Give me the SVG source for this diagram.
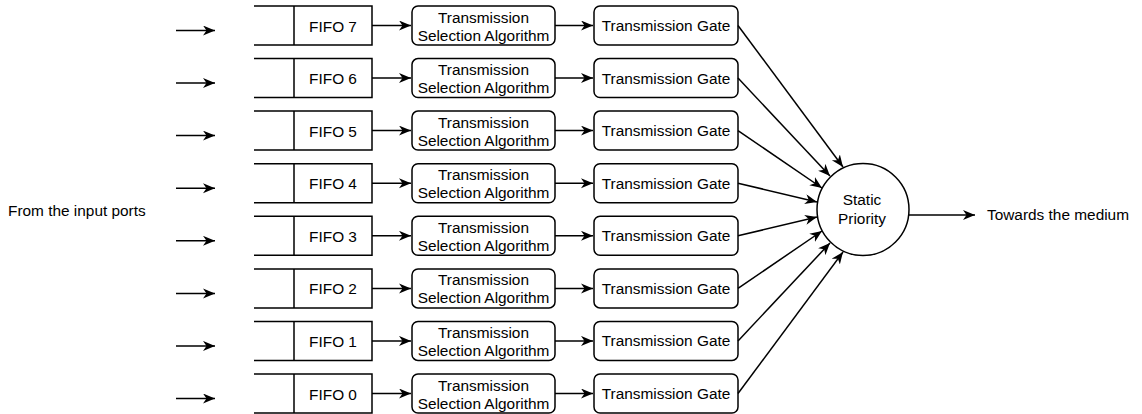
<svg xmlns="http://www.w3.org/2000/svg" width="1142" height="414" viewBox="0 0 1142 414">
<style>
text{font-family:"Liberation Sans",Arial,Helvetica,sans-serif;font-size:15.4px;fill:#000}
.c{text-anchor:middle}
.s{fill:none;stroke:#000;stroke-width:1.5}
.b{fill:#fff;stroke:#000;stroke-width:1.5}
.e{fill:none;stroke:#000;stroke-width:1.5;marker-end:url(#ah)}
</style>
<defs>
<marker id="ah" markerUnits="userSpaceOnUse" markerWidth="13" markerHeight="11" viewBox="0 0 13 11" refX="12" refY="5" orient="auto">
<path d="M0,0 L12,5 L0,10 L3.5,5 Z" fill="#000"/>
</marker>
<g id="fifo"><path class="s" d="M0,0 H118 V39 H0 M40,0 V39"/></g>
<g id="tsa"><rect class="b" x="0" y="0" width="143" height="39" rx="6" ry="6"/></g>
<g id="gate"><rect class="b" x="0" y="0" width="144" height="39" rx="6" ry="6"/></g>
</defs>
<rect width="1142" height="414" fill="#fff"/>
<text id="label-input" x="8" y="216">From the input ports</text>
<text id="label-output" x="987" y="220">Towards the medium</text>

<g id="fifo7"><use href="#fifo" x="254" y="6"/><text class="c" x="333" y="31.5">FIFO 7</text></g>
<g id="fifo6"><use href="#fifo" x="254" y="58.6"/><text class="c" x="333" y="84.1">FIFO 6</text></g>
<g id="fifo5"><use href="#fifo" x="254" y="111.1"/><text class="c" x="333" y="136.6">FIFO 5</text></g>
<g id="fifo4"><use href="#fifo" x="254" y="163.7"/><text class="c" x="333" y="189.2">FIFO 4</text></g>
<g id="fifo3"><use href="#fifo" x="254" y="216.3"/><text class="c" x="333" y="241.8">FIFO 3</text></g>
<g id="fifo2"><use href="#fifo" x="254" y="268.9"/><text class="c" x="333" y="294.4">FIFO 2</text></g>
<g id="fifo1"><use href="#fifo" x="254" y="321.4"/><text class="c" x="333" y="346.9">FIFO 1</text></g>
<g id="fifo0"><use href="#fifo" x="254" y="374"/><text class="c" x="333" y="399.5">FIFO 0</text></g>

<g id="tsa7"><use href="#tsa" x="412" y="6"/><text class="c" x="483.5" y="22.5">Transmission</text><text class="c" x="483.5" y="40.5">Selection Algorithm</text></g>
<g id="tsa6"><use href="#tsa" x="412" y="58.6"/><text class="c" x="483.5" y="75.1">Transmission</text><text class="c" x="483.5" y="93.1">Selection Algorithm</text></g>
<g id="tsa5"><use href="#tsa" x="412" y="111.1"/><text class="c" x="483.5" y="127.6">Transmission</text><text class="c" x="483.5" y="145.6">Selection Algorithm</text></g>
<g id="tsa4"><use href="#tsa" x="412" y="163.7"/><text class="c" x="483.5" y="180.2">Transmission</text><text class="c" x="483.5" y="198.2">Selection Algorithm</text></g>
<g id="tsa3"><use href="#tsa" x="412" y="216.3"/><text class="c" x="483.5" y="232.8">Transmission</text><text class="c" x="483.5" y="250.8">Selection Algorithm</text></g>
<g id="tsa2"><use href="#tsa" x="412" y="268.9"/><text class="c" x="483.5" y="285.4">Transmission</text><text class="c" x="483.5" y="303.4">Selection Algorithm</text></g>
<g id="tsa1"><use href="#tsa" x="412" y="321.4"/><text class="c" x="483.5" y="337.9">Transmission</text><text class="c" x="483.5" y="355.9">Selection Algorithm</text></g>
<g id="tsa0"><use href="#tsa" x="412" y="374"/><text class="c" x="483.5" y="390.5">Transmission</text><text class="c" x="483.5" y="408.5">Selection Algorithm</text></g>

<g id="gate7"><use href="#gate" x="594" y="6"/><text class="c" x="666" y="31">Transmission Gate</text></g>
<g id="gate6"><use href="#gate" x="594" y="58.6"/><text class="c" x="666" y="83.6">Transmission Gate</text></g>
<g id="gate5"><use href="#gate" x="594" y="111.1"/><text class="c" x="666" y="136.1">Transmission Gate</text></g>
<g id="gate4"><use href="#gate" x="594" y="163.7"/><text class="c" x="666" y="188.7">Transmission Gate</text></g>
<g id="gate3"><use href="#gate" x="594" y="216.3"/><text class="c" x="666" y="241.3">Transmission Gate</text></g>
<g id="gate2"><use href="#gate" x="594" y="268.9"/><text class="c" x="666" y="293.9">Transmission Gate</text></g>
<g id="gate1"><use href="#gate" x="594" y="321.4"/><text class="c" x="666" y="346.4">Transmission Gate</text></g>
<g id="gate0"><use href="#gate" x="594" y="374"/><text class="c" x="666" y="399">Transmission Gate</text></g>

<g id="static-priority"><circle class="b" cx="863" cy="209.5" r="46"/><text class="c" x="862" y="205">Static</text><text class="c" x="862" y="223.5">Priority</text></g>

<g id="connectors">
<path class="e" d="M176,30.5 H215"/>
<path class="e" d="M176,83.1 H215"/>
<path class="e" d="M176,135.6 H215"/>
<path class="e" d="M176,188.2 H215"/>
<path class="e" d="M176,240.8 H215"/>
<path class="e" d="M176,293.4 H215"/>
<path class="e" d="M176,345.9 H215"/>
<path class="e" d="M176,398.5 H215"/>

<path class="e" d="M372,25.5 H411"/>
<path class="e" d="M372,78.1 H411"/>
<path class="e" d="M372,130.6 H411"/>
<path class="e" d="M372,183.2 H411"/>
<path class="e" d="M372,235.8 H411"/>
<path class="e" d="M372,288.4 H411"/>
<path class="e" d="M372,340.9 H411"/>
<path class="e" d="M372,393.5 H411"/>

<path class="e" d="M555,25.5 H593"/>
<path class="e" d="M555,78.1 H593"/>
<path class="e" d="M555,130.6 H593"/>
<path class="e" d="M555,183.2 H593"/>
<path class="e" d="M555,235.8 H593"/>
<path class="e" d="M555,288.4 H593"/>
<path class="e" d="M555,340.9 H593"/>
<path class="e" d="M555,393.5 H593"/>

<path class="e" d="M738,25.5 L843,167"/>
<path class="e" d="M738,78.1 L830,176"/>
<path class="e" d="M738,130.6 L822,188"/>
<path class="e" d="M738,183.2 L817,202"/>
<path class="e" d="M738,235.8 L817,217"/>
<path class="e" d="M738,288.4 L822,231"/>
<path class="e" d="M738,340.9 L830,243"/>
<path class="e" d="M738,393.5 L843,252"/>

<path class="e" d="M909,215 H975"/>
</g>
</svg>
